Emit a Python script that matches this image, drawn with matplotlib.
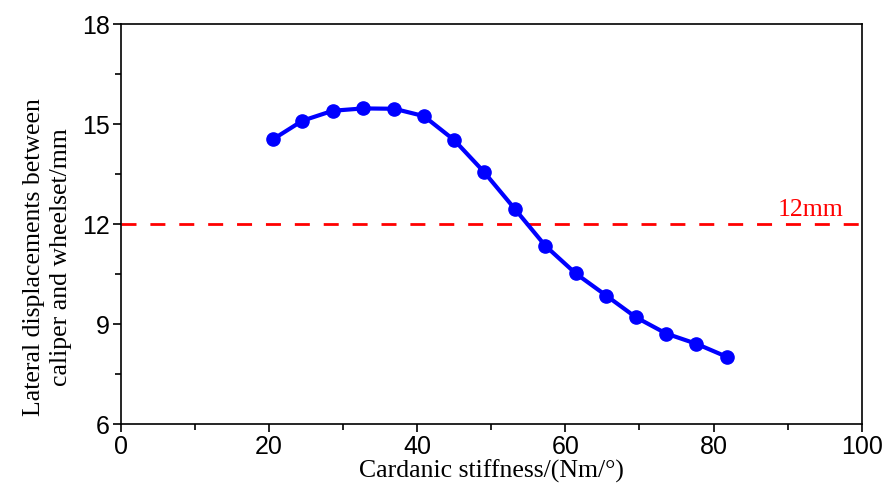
import matplotlib
matplotlib.use("Agg")
import matplotlib.pyplot as plt
from matplotlib.ticker import MultipleLocator

# data
stiffness = [20.5, 24.5, 28.6, 32.7, 36.9, 40.9, 45.0, 49.0, 53.2, 57.3,
             61.4, 65.5, 69.5, 73.6, 77.7, 81.8]
displacement = [14.54, 15.10, 15.40, 15.47, 15.46, 15.24, 14.52, 13.57, 12.45,
                11.35, 10.52, 9.86, 9.21, 8.72, 8.41, 8.02]
limit_value = 12
limit_label = "12mm"

tick_font = "Liberation Sans"
label_font = "Liberation Serif"

fig = plt.figure(figsize=(8.82, 4.91), dpi=100)
ax = fig.add_axes([0.137, 0.136, 0.840, 0.815])

ax.plot(stiffness, displacement, color="blue", linewidth=3, marker="o",
        markersize=9.5, zorder=3)
ax.axhline(limit_value, color="red", linewidth=2, dashes=(5.4, 5), zorder=2)
ax.text(88.7, 12.1, limit_label, color="red", fontsize=18.5,
        family=label_font, ha="left", va="bottom")

ax.set_xlim(0, 100)
ax.set_ylim(6, 18)
ax.xaxis.set_major_locator(MultipleLocator(20))
ax.xaxis.set_minor_locator(MultipleLocator(10))
ax.yaxis.set_major_locator(MultipleLocator(3))
ax.yaxis.set_minor_locator(MultipleLocator(1.5))
ax.tick_params(which="both", direction="out", top=False, right=False,
               width=1.2, labelsize=18)
ax.tick_params(which="major", length=6, pad=2)
ax.tick_params(which="minor", length=4)
for lab in ax.get_xticklabels() + ax.get_yticklabels():
    lab.set_family(tick_font)
for sp in ax.spines.values():
    sp.set_linewidth(1.2)

ax.set_xlabel("Cardanic stiffness/(Nm/°)", family=label_font, fontsize=18.5,
              labelpad=0)
ax.set_ylabel("Lateral displacements between\ncaliper and wheelset/mm",
              family=label_font, fontsize=18.5, linespacing=1.3)
# label sits a bit below the axes centre in the original
ax.yaxis.set_label_coords(-0.066, 0.418)

fig.savefig("out.png", dpi=100)
